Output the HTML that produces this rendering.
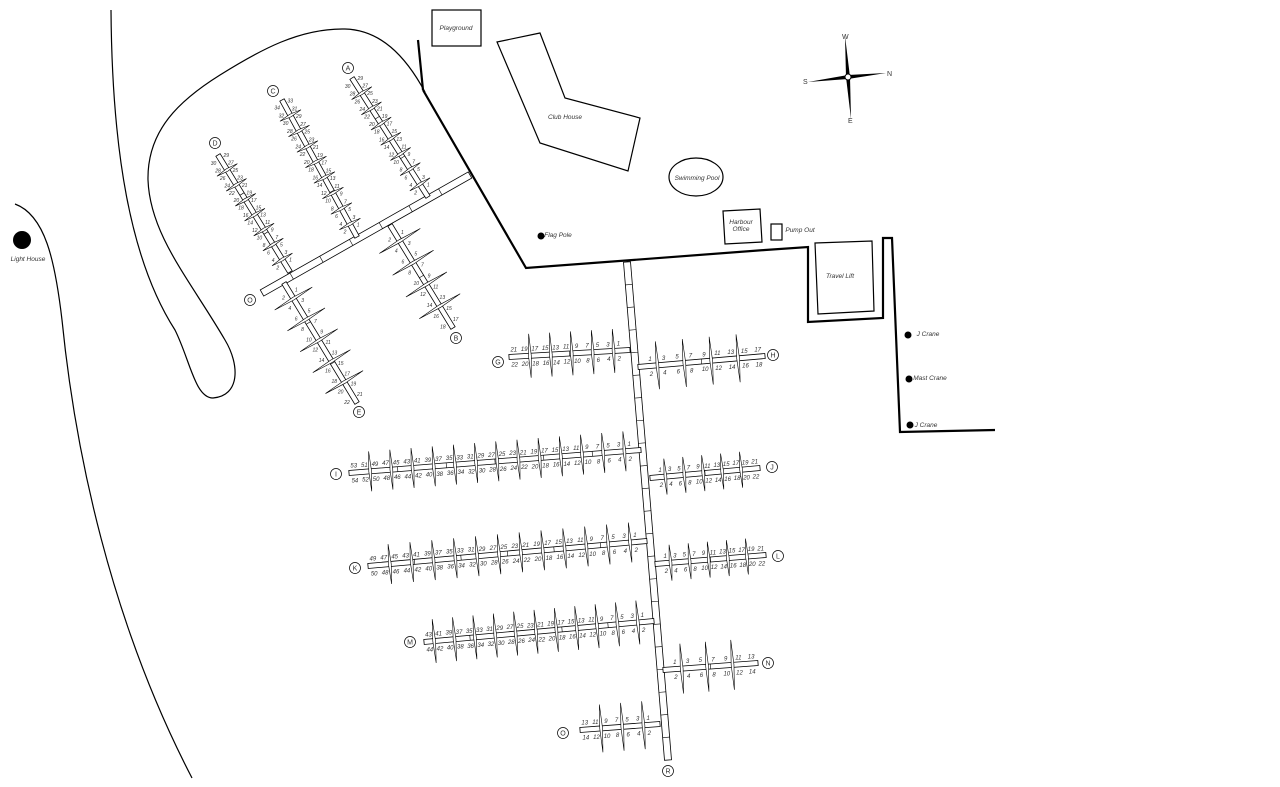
<!DOCTYPE html>
<html><head><meta charset="utf-8"><style>
html,body{margin:0;padding:0;background:#fff;width:1280px;height:787px;overflow:hidden}
svg{display:block}
text{font-family:"Liberation Sans",sans-serif;font-style:italic;fill:#333}
</style></head><body>
<svg id="s" width="1280" height="787" viewBox="0 0 1280 787" xmlns="http://www.w3.org/2000/svg">
<g fill="none" stroke="#000" stroke-width="1.2">
<path d="M15,204 C45,215 55,260 62,320 C75,450 110,620 192,778"/>
<path d="M111,10 C112,150 130,260 175,330 C190,360 195,398 213,398 C240,396 240,365 225,340 C190,280 150,235 148,180 C147,130 180,100 220,75 C260,50 300,28 345,29 C380,30 405,55 425,92"/>
</g>
<g fill="none" stroke="#000" stroke-width="2.2">
<path d="M418,40 L423,90"/>
<path d="M423,90 L526,268 L765,250 L808,247 L808,322 L883,318 L883,238 L892,238 L900,432 L995,430"/>
</g>
<g fill="none" stroke="#000" stroke-width="1.2">
<rect x="432" y="10" width="49" height="36"/>
<path d="M497,42 L540,33 L565,98 L640,118 L628,171 L540,143 Z"/>
<ellipse cx="696" cy="177" rx="27" ry="19"/>
<path d="M723,211 L760,209 L762,242 L725,244 Z"/>
<rect x="771" y="224" width="11" height="16"/>
<path d="M815,243 L872,241 L874,311 L818,314 Z"/>
</g>
<g font-size="6.5" text-anchor="middle">
<text x="456" y="30">Playground</text>
<text x="565" y="119">Club House</text>
<text x="697" y="180">Swimming Pool</text>
<text x="741" y="224">Harbour</text><text x="741" y="231">Office</text>
<text x="800" y="232">Pump Out</text>
<text x="558" y="237">Flag Pole</text>
<text x="840" y="278">Travel Lift</text>
<text x="928" y="336">J Crane</text>
<text x="930" y="380">Mast Crane</text>
<text x="926" y="427">J Crane</text>
<text x="28" y="261">Light House</text>
</g>
<circle cx="22" cy="240" r="9"/>
<circle cx="541" cy="236" r="3.5"/>
<circle cx="908" cy="335" r="3.5"/>
<circle cx="909" cy="379" r="3.5"/>
<circle cx="910" cy="425" r="3.5"/>
<g>
<polygon points="845,36 850,77 846,77"/><polygon points="851,119 846,77 850,77"/>
<polygon points="808,82 848,75 848,79"/><polygon points="886,73 848,79 848,75"/>
<circle cx="848" cy="77" r="3" fill="#fff" stroke="#000"/>
<g font-family="Liberation Serif" font-size="7">
<text x="842" y="39" style="font-style:normal">W</text><text x="887" y="76" style="font-style:normal">N</text>
<text x="803" y="84" style="font-style:normal">S</text><text x="848" y="123" style="font-style:normal">E</text>
</g>
</g>
<g id="piers"></g>
</svg>
<script>
var NS="http://www.w3.org/2000/svg",g=document.getElementById('piers');
function el(t,a,txt){var e=document.createElementNS(NS,t);for(var k in a)e.setAttribute(k,a[k]);if(txt!==undefined)e.textContent=txt;g.appendChild(e);return e;}
function walk(x1,y1,x2,y2,w,seg){var dx=x2-x1,dy=y2-y1,L=Math.hypot(dx,dy),nx=-dy/L*w/2,ny=dx/L*w/2;
el('polygon',{points:[x1+nx,y1+ny,x2+nx,y2+ny,x2-nx,y2-ny,x1-nx,y1-ny].join(','),fill:'#fff',stroke:'#000','stroke-width':0.8});
var n=Math.floor(L/(seg||30));for(var i=1;i<n;i++){var t=i/n,cx=x1+dx*t,cy=y1+dy*t;el('line',{x1:cx+nx,y1:cy+ny,x2:cx-nx,y2:cy-ny,stroke:'#000','stroke-width':0.6});}}
function letter(x,y,c){el('circle',{cx:x,cy:y,r:5.5,fill:'#fff',stroke:'#000','stroke-width':0.7});el('text',{x:x,y:y+2.5,'font-size':7,'text-anchor':'middle',style:'font-style:normal'},c);}
function spike(cx,cy,ux,uy,a,b){var px=-uy*1.4,py=ux*1.4;
el('polygon',{points:[cx+ux*a,cy+uy*a,cx+px,cy+py,cx-ux*b,cy-uy*b,cx-px,cy-py].join(','),fill:'#fff',stroke:'#000','stroke-width':0.6});}
function pier(x1,y1,x2,y2,nb,len,lab,lx,ly,fs){var dx=x2-x1,dy=y2-y1,L=Math.hypot(dx,dy),ux=dx/L,uy=dy/L;
var nx=-uy,ny=ux; if(ny>0||(Math.abs(ny)<0.3&&nx<0)){nx=-nx;ny=-ny;}
walk(x1,y1,x2,y2,5,45);
var sp=(L-6)/nb;
for(var i=0;i<nb;i++){var d=6+i*sp;
if(i%2==1){var cx=x1+ux*d,cy=y1+uy*d;spike(cx,cy,nx,ny,len,len);}
var mx=x1+ux*(d+sp/2),my=y1+uy*(d+sp/2);
el('text',{x:mx+nx*7,y:my+ny*7+2,'font-size':fs||6,'text-anchor':'middle'},2*i+1);
el('text',{x:mx-nx*8,y:my-ny*8+2,'font-size':fs||6,'text-anchor':'middle'},2*i+2);}
letter(lx,ly,lab);}
walk(627,262,668,760,7,22);
letter(668,771,'R');
walk(262,293,470,175,7,30);
letter(250,300,'O');
pier(630,350,509,357,11,22,'G',498,362);
pier(638,367,765,356,9,24,'H',773,355);
pier(641,450,349,473,27,20,'I',336,474);
pier(650,478,760,468,11,18,'J',772,467);
pier(647,541,368,566,25,20,'K',355,568);
pier(655,564,766,555,11,18,'L',778,556);
pier(654,621,424,642,22,22,'M',410,642);
pier(663,670,758,663,7,25,'N',768,663);
pier(660,724,580,730,7,24,'O',563,733);
pier(428,197,352,78,15,12,'A',348,68,5);
pier(357,237,282,100,17,12,'C',273,91,5);
pier(290,272,218,155,15,12,'D',215,143,5);
pier(284,283,357,403,11,22,'E',359,412,5);
pier(390,225,453,328,9,24,'B',456,338,5);
</script>
</body></html>
